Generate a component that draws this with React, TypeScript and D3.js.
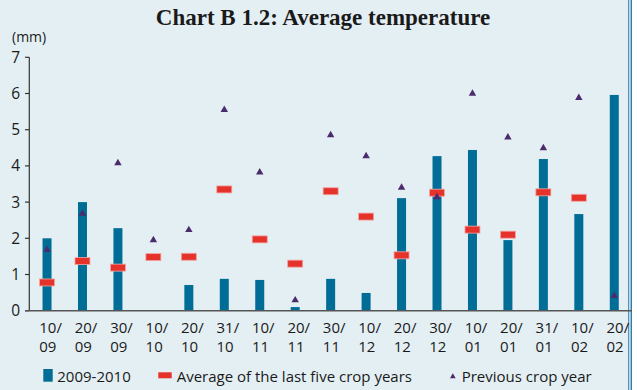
import React from "react";
import * as d3 from "d3";

const categories = ["10/09", "20/09", "30/09", "10/10", "20/10", "31/10", "10/11", "20/11", "30/11", "10/12", "20/12", "30/12", "10/01", "20/01", "31/01", "10/02", "20/02"];
const current: (number | null)[] = [2.0, 3.0, 2.28, null, 0.71, 0.88, 0.85, 0.1, 0.88, 0.49, 3.11, 4.27, 4.44, 1.95, 4.19, 2.67, 5.96];
const fiveYearAvg: (number | null)[] = [0.78, 1.37, 1.19, 1.48, 1.49, 3.35, 1.97, 1.3, 3.3, 2.6, 1.53, 3.26, 2.24, 2.1, 3.27, 3.12, null];
const previousYear: (number | null)[] = [1.68, 2.68, 4.08, 1.95, 2.23, 5.55, 3.82, 0.29, 4.85, 4.27, 3.4, 3.14, 6.0, 4.79, 4.49, 5.88, 0.41];
const yTicks = [0, 1, 2, 3, 4, 5, 6, 7];
const seriesNames = ["2009-2010", "Average of the last five crop years", "Previous crop year"];

const W = 637;
const H = 390;
const BG = "#e4eff4";
const BLUE = "#006d96";
const RED = "#e5322b";
const PURPLE = "#4b2b6b";
const FONT = "'Open Sans', 'Noto Sans', sans-serif";

export default function App() {
  const x = d3.scaleBand<string>().domain(categories).range([29.3, 632]).padding(0);
  const y = d3.scaleLinear().domain([0, 7]).range([310.7, 57.3]);
  const cx = (c: string) => (x(c) as number) + x.bandwidth() / 2;
  const barW = 9;
  const tri = d3.symbol().type(d3.symbolTriangle).size(24);
  const triSmall = d3.symbol().type(d3.symbolTriangle).size(14);

  return (
    <svg width={W} height={H} style={{ position: "fixed", left: 0, top: 0, display: "block" }}>
      <rect x={0} y={0} width={W} height={H} fill="#ffffff" />
      <rect x={0} y={0} width={632} height={H} fill={BG} />
      <line x1={628.7} x2={628.7} y1={0} y2={H} stroke="#2f7ea6" strokeWidth={1} />
      <line x1={631.3} x2={631.3} y1={0} y2={H} stroke="#2f7ea6" strokeWidth={1.4} />

      <text x={323} y={25} textAnchor="middle" fontFamily="'Liberation Serif', serif" fontWeight="bold" fontSize={23} fill="#1a1a1a">
        Chart B 1.2: Average temperature
      </text>
      <text x={12} y={42} fontFamily={FONT} fontSize={14} fill="#1a1a1a">(mm)</text>

      {/* y axis */}
      <line x1={29.3} x2={29.3} y1={y(7)} y2={y(0)} stroke="#333" strokeWidth={1.2} />
      {yTicks.map((t) => (
        <g key={t}>
          <line x1={25} x2={29.3} y1={y(t)} y2={y(t)} stroke="#333" strokeWidth={1.2} />
          <text x={20} y={y(t) + 5.5} textAnchor="end" fontFamily={FONT} fontSize={15.5} fill="#1a1a1a">{t}</text>
        </g>
      ))}

      {/* bars */}
      {categories.map((c, i) => {
        const v = current[i];
        if (v == null) return null;
        return <rect key={c} x={cx(c) - barW / 2} y={y(v)} width={barW} height={y(0) - y(v)} fill={BLUE} />;
      })}

      {/* x axis */}
      <line x1={25} x2={632} y1={y(0)} y2={y(0)} stroke="#555" strokeWidth={1.5} />

      {/* average markers */}
      {categories.map((c, i) => {
        const v = fiveYearAvg[i];
        if (v == null) return null;
        return <rect key={c} x={cx(c) - 7.5} y={y(v) - 3.5} width={15} height={7} fill={RED} stroke="#f3a5a3" strokeWidth={0.8} />;
      })}

      {/* previous year triangles */}
      {categories.map((c, i) => {
        const v = previousYear[i];
        if (v == null) return null;
        return <path key={c} d={tri() as string} transform={`translate(${cx(c)},${y(v)})`} fill={PURPLE} />;
      })}

      {/* x labels */}
      {categories.map((c) => {
        const [a, b] = c.split("/");
        return (
          <text key={c} fontFamily={FONT} fontSize={15} fill="#1a1a1a">
            <tspan x={cx(c) - 7.8} y={333}>{a}/</tspan>
            <tspan x={cx(c) - 7.8} y={351.5}>{b}</tspan>
          </text>
        );
      })}

      {/* legend */}
      <rect x={43.3} y={369} width={9.4} height={12.7} fill={BLUE} />
      <text x={57.3} y={381.5} fontFamily={FONT} fontSize={15} fill="#1a1a1a">{seriesNames[0]}</text>
      <rect x={158.3} y={372.3} width={13.4} height={6} fill={RED} />
      <text x={176.7} y={381.5} fontFamily={FONT} fontSize={15} fill="#1a1a1a">{seriesNames[1]}</text>
      <path d={triSmall() as string} transform={`translate(452.8,376.5)`} fill={PURPLE} />
      <text x={461.7} y={381.5} fontFamily={FONT} fontSize={15} fill="#1a1a1a">{seriesNames[2]}</text>
    </svg>
  );
}
